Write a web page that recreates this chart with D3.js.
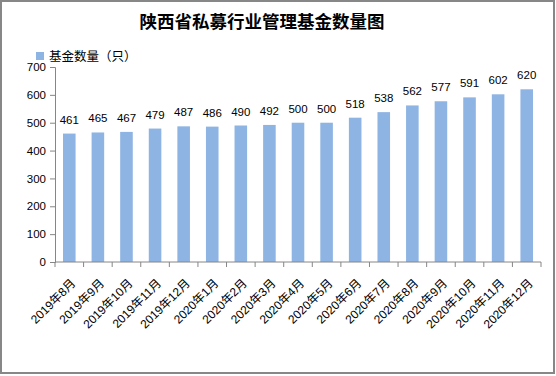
<!DOCTYPE html>
<html>
<head>
<meta charset="utf-8">
<script src="https://cdn.jsdelivr.net/npm/d3@7"></script>
<style>
  body { margin: 0; background: #fff; }
</style>
</head>
<body>
<div id="container"></div>
<script>
let w = 556;
let h = 376;

let months = ["2019年8月", "2019年9月", "2019年10月", "2019年11月", "2019年12月",
  "2020年1月", "2020年2月", "2020年3月", "2020年4月", "2020年5月", "2020年6月",
  "2020年7月", "2020年8月", "2020年9月", "2020年10月", "2020年11月", "2020年12月"];
let fundCounts = [461, 465, 467, 479, 487, 486, 490, 492, 500, 500, 518, 538, 562, 577, 591, 602, 620];
let yTicks = [0, 100, 200, 300, 400, 500, 600, 700];

let font = "'Liberation Sans', 'Noto Sans CJK SC', sans-serif";
let cjkFont = "'Noto Sans CJK SC', sans-serif";
let axisColor = "#868686";
let barColor = "#8eb4e3";

let viz = d3.select("#container")
  .append("svg")
  .attr("width", w)
  .attr("height", h);

viz.append("rect")
  .attr("x", 1).attr("y", 1)
  .attr("width", 553).attr("height", 372)
  .attr("fill", "#fff")
  .attr("stroke", "#878787")
  .attr("stroke-width", 2);

// title
viz.append("text")
  .text("陕西省私募行业管理基金数量图")
  .attr("x", 262).attr("y", 28)
  .attr("text-anchor", "middle")
  .attr("font-family", cjkFont)
  .attr("font-weight", "bold")
  .attr("font-size", 17.5)
  .attr("fill", "#000");

// legend
viz.append("rect")
  .attr("x", 36).attr("y", 52)
  .attr("width", 8).attr("height", 8)
  .attr("fill", barColor);
viz.append("text")
  .text("基金数量（只）")
  .attr("x", 49).attr("y", 61)
  .attr("font-family", cjkFont)
  .attr("font-size", 12.5)
  .attr("fill", "#000");

// scales
let xScale = d3.scaleBand().domain(months).range([55, 541]).paddingInner(0.56).paddingOuter(0.28);
let yScale = d3.scaleLinear().domain([0, 700]).range([262, 67]);

// y axis
let yAxisGroup = viz.append("g").attr("transform", "translate(55,0)");
yAxisGroup.call(d3.axisLeft(yScale).tickValues(yTicks).tickSize(5).tickPadding(4));
yAxisGroup.select(".domain").attr("stroke", axisColor);
yAxisGroup.selectAll(".tick line").attr("stroke", axisColor);
yAxisGroup.selectAll(".tick text")
  .attr("font-family", font)
  .attr("font-size", 11.5)
  .attr("fill", "#000");

// bars
let vizGroup = viz.append("g").attr("class", "vizGroup");
vizGroup.selectAll("rect")
  .data(fundCounts)
  .enter()
  .append("rect")
  .attr("x", (d, i) => xScale(months[i]))
  .attr("width", xScale.bandwidth())
  .attr("y", d => yScale(d))
  .attr("height", d => yScale(0) - yScale(d))
  .attr("fill", barColor);

vizGroup.selectAll("text")
  .data(fundCounts)
  .enter()
  .append("text")
  .text(d => d)
  .attr("x", (d, i) => xScale(months[i]) + xScale.bandwidth() / 2)
  .attr("y", d => yScale(d) - 10)
  .attr("text-anchor", "middle")
  .attr("font-family", font)
  .attr("font-size", 11.5)
  .attr("fill", "#000");

// x axis with ticks at category boundaries
let xAxisGroup = viz.append("g").attr("transform", "translate(0,262)");
xAxisGroup.append("line")
  .attr("x1", 55).attr("x2", 541)
  .attr("stroke", axisColor);
let step = xScale.step();
xAxisGroup.selectAll(".bound")
  .data(d3.range(months.length + 1))
  .enter()
  .append("line")
  .attr("x1", i => 55 + i * step)
  .attr("x2", i => 55 + i * step)
  .attr("y1", 0).attr("y2", 5)
  .attr("stroke", axisColor);

xAxisGroup.selectAll(".xlabel")
  .data(months)
  .enter()
  .append("text")
  .text(d => d)
  .attr("transform", d => "translate(" + (xScale(d) + xScale.bandwidth() / 2 + 7) + ",22) rotate(-45)")
  .attr("text-anchor", "end")
  .attr("font-family", font)
  .attr("font-size", 12)
  .attr("fill", "#000");
</script>
</body>
</html>
